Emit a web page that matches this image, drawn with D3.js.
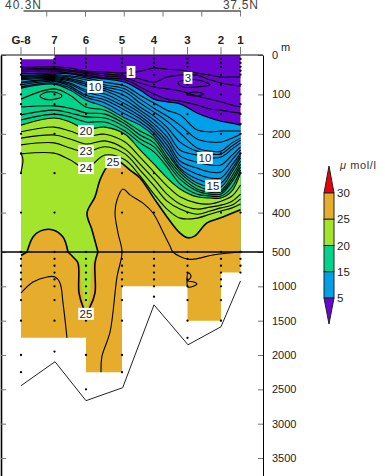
<!DOCTYPE html>
<html>
<head>
<meta charset="utf-8">
<script src="https://cdn.jsdelivr.net/npm/d3@7"></script>
<style>
body { margin: 0; background: #fff; }
svg { display: block; }
text { font-family: "Liberation Sans", Arial, sans-serif; }
</style>
</head>
<body>
<div id="chart"></div>
<script>
const w = 385
const h = 476

// stations, distance along the section
const stationNames = ['G-8', '7', '6', '5', '4', '3', '2', '1']
const stationDist = [0, 33.5, 65, 101, 133, 166.5, 200, 219.5]
const stationDepths = [
    [10, 20, 30, 50, 75, 100, 125, 150, 200, 250, 300, 400, 500, 600, 700, 800, 900, 1000, 1200, 1500, 2000, 2250],
    [10, 20, 30, 50, 75, 100, 125, 150, 200, 300, 400, 500, 600, 700, 800, 900, 1000, 1200, 1500, 1950],
    [10, 20, 30, 50, 75, 100, 125, 150, 200, 500, 600, 700, 800, 900, 1000, 1100, 1200, 1500, 2000, 2500],
    [10, 20, 30, 50, 75, 100, 125, 150, 200, 300, 400, 500, 600, 700, 800, 900, 1000, 1200, 1500, 2000, 2250],
    [10, 20, 30, 50, 75, 100, 125, 150, 200, 300, 400, 500, 600, 700, 800, 900, 1000, 1150],
    [10, 20, 30, 50, 75, 100, 150, 200, 400, 500, 600, 700, 800, 900, 1000, 1200, 1500, 1750],
    [10, 20, 30, 50, 75, 100, 150, 200, 250, 400, 500, 600, 700, 800, 900, 1000, 1200, 1500],
    [10, 20, 30, 40, 50, 75, 100, 125, 150, 175, 200, 250, 300, 400, 500, 600, 700, 800]
]

const depthTicks = [0, 100, 200, 300, 400, 500, 1000, 1500, 2000, 2500, 3000, 3500]
const latTicks = [40, 39.5, 39, 38.5, 38, 37.5]

// isolines, depth (m) at each of these distances
const isoDist = [0, 33, 49, 65, 84, 104, 119, 133, 146, 159, 176, 189, 200, 211, 219.5]
const iso1 = [32, 30, 33, 41, 43, 46, 41, 33, 36, 38, 46, 51, 56, 56, 56]
const iso2 = [36, 34, 38, 44, 48, 53, 61, 69, 56, 51, 51, 63, 71, 76, 79]
const iso3 = [38, 37, 41, 47, 53, 58, 71, 81, 86, 91, 104, 112, 119, 127, 132]
const iso4 = [43, 41, 46, 51, 58, 63, 81, 99, 112, 117, 127, 137, 140, 145, 147]
const iso5 = [48, 46, 48, 55, 61, 69, 89, 112, 119, 124, 147, 160, 168, 173, 178]
const iso6 = [52, 50, 53, 58, 69, 79, 102, 122, 140, 152, 190, 195, 193, 193, 193]
const iso7 = [55, 52, 56, 63, 76, 86, 112, 135, 155, 178, 213, 221, 221, 211, 201]
const iso8 = [57, 55, 60, 69, 81, 94, 122, 145, 168, 198, 236, 244, 244, 223, 211]
const iso9 = [60, 57, 63, 74, 86, 104, 132, 155, 183, 221, 244, 251, 251, 231, 216]
const iso10 = [63, 60, 66, 79, 91, 114, 140, 165, 195, 241, 254, 261, 259, 239, 223]
const iso11 = [69, 62, 71, 89, 99, 124, 147, 175, 208, 256, 272, 279, 279, 254, 233]
const iso12 = [71, 65, 74, 94, 107, 132, 155, 183, 218, 269, 287, 297, 297, 266, 241]
const iso13 = [76, 67, 79, 102, 114, 140, 162, 190, 228, 279, 302, 312, 312, 279, 249]
const iso14 = [81, 71, 84, 107, 122, 150, 170, 198, 239, 287, 315, 325, 325, 289, 255]
const iso15 = [84, 74, 89, 114, 132, 160, 178, 206, 249, 292, 325, 335, 335, 297, 261]
const iso16 = [112, 86, 102, 132, 140, 168, 193, 213, 259, 299, 332, 343, 343, 307, 269]
const iso17 = [132, 129, 135, 147, 150, 175, 203, 223, 266, 307, 340, 348, 348, 315, 277]
const iso18 = [152, 140, 147, 157, 160, 183, 213, 233, 274, 315, 345, 353, 353, 322, 284]
const iso19 = [165, 150, 157, 170, 170, 193, 223, 246, 284, 327, 353, 358, 358, 335, 292]
const iso20 = [178, 160, 170, 188, 183, 201, 241, 277, 312, 340, 360, 363, 363, 345, 299]
const iso21 = [195, 183, 193, 206, 201, 221, 259, 297, 332, 360, 376, 378, 371, 358, 330]
const iso22 = [211, 203, 213, 226, 218, 239, 277, 315, 353, 378, 391, 386, 381, 371, 353]
const iso23 = [228, 223, 236, 246, 233, 251, 292, 332, 371, 391, 404, 396, 388, 381, 365]
const iso24 = [251, 249, 266, 287, 254, 266, 307, 353, 391, 414, 414, 404, 396, 388, 378]
const isolines = [iso1, iso2, iso3, iso4, iso5, iso6, iso7, iso8, iso9, iso10, iso11, iso12,
    iso13, iso14, iso15, iso16, iso17, iso18, iso19, iso20, iso21, iso22, iso23, iso24]

// closed and short lines, [dist, depth]
const loop3 = [[157, 71], [166, 63], [181, 66], [189, 76], [176, 81], [162, 81]]
const loop3b = [[166, 99], [174, 94], [183, 99], [174, 104]]
const loop16 = [[19, 104], [26, 94], [36, 96], [41, 104], [34, 112], [24, 112]]
const loop26 = [[167, 805], [169, 820], [170, 863], [167, 921], [173, 936], [176, 965], [173, 994], [167, 1009], [166, 907]]
const leftEdge24 = [[0, 297], [2, 266], [1, 256], [0, 251]]

// 25 umol/l
const ridge25 = [[77, 500], [71, 444], [66, 401], [74, 360], [79, 317], [86, 284], [92, 272], [99, 272], [109, 292],
    [119, 312], [132, 360], [146, 411], [159, 452], [167, 464], [174, 459], [186, 426], [199, 414], [219.5, 393]]
const dome25 = [[6, 500], [12, 462], [19, 447], [32, 444], [42, 462], [47, 500]]
const tongue25 = [[47, 500], [53, 587], [57, 660], [58, 1096], [62, 1299], [65, 1386], [69, 1299], [74, 1096], [74, 660], [77, 500]]
const corner25 = [[0, 550], [6, 500]]
const tongueFill = [[47, 500], [53, 587], [59, 690], [60, 907], [63, 1197], [65, 1314], [68, 1197], [70, 907], [71, 690], [74, 587], [77, 500]]

// thin lines inside the 25 area
const left26 = [[0, 1097], [12, 936], [26, 863], [34, 863], [39, 950], [42, 1241], [46, 1750]]
const right26 = [[80, 2250], [81, 2017], [89, 1668], [96, 863], [101, 500], [97, 452], [94, 401], [96, 368], [102, 340],
    [109, 355], [122, 376], [132, 401], [141, 444], [149, 485], [152, 500], [166, 602], [174, 602], [192, 544], [219.5, 500]]

// deep part, drawn to the last sampled depth only
const stepDist = [0, 65, 101, 166.5, 200, 219.5]
const stepDepth = [1750, 2250, 1000, 1500, 800, 800]
const bottomLine = [[0, 2447], [34, 2098], [65, 2665], [101.7, 2476], [133, 1270], [167, 1851], [200, 1589], [219.5, 921]]

const labels = [
    ['1', 110, 43], ['10', 74, 81], ['3', 167, 58], ['20', 65, 193], ['23', 65, 244], ['24', 65, 287],
    ['25', 92, 272], ['10', 184, 261], ['15', 192, 332], ['25', 65, 1400]
]

const legendValues = [30, 25, 20, 15, 5]
const legendColors = ['#e6ad2d', '#a3e52d', '#00d38b', '#00a0e9']
const purple = '#6a04d0'
const blue = '#00a0e9'
const teal = '#00d38b'
const lime = '#a3e52d'
const orange = '#e6ad2d'
const red = '#e8000b'

const svg = d3.select('#chart')
    .append('svg')
    .attr('width', w)
    .attr('height', h)

const xScale = d3.scaleLinear().domain([0, 219.5]).range([21, 240.5])
const yScale = d3.scaleLinear().domain([0, 500, 3762]).range([55, 252, 476])
const latScale = d3.scaleLinear().domain([40.3, 37.5]).range([23, 240])

const smooth = d3.curveCatmullRom.alpha(0.5)
const line = d3.line().x(d => xScale(d[0])).y(d => yScale(d[1])).curve(smooth)
const straight = d3.line().x(d => xScale(d[0])).y(d => yScale(d[1]))
const closed = d3.line().x(d => xScale(d[0])).y(d => yScale(d[1])).curve(d3.curveCatmullRomClosed.alpha(0.5))

function pairs(depths) {
    return isoDist.map((x, i) => [x, depths[i]])
}

const bandArea = d3.area()
    .x(d => xScale(d[0]))
    .y0(d => yScale(d[1]))
    .y1(yScale(500))
    .curve(smooth)

// colour bands, top to bottom
svg.append('path')
    .attr('d', d3.area().x(d => xScale(d[0])).y0(d => yScale(d[1])).y1(yScale(500)).curve(d3.curveStepAfter)(
        [[0, 11], [33.5, 0], [219.5, 0]]))
    .attr('fill', purple)
svg.append('path').attr('d', bandArea(pairs(iso5))).attr('fill', blue)
svg.append('path').attr('d', bandArea(pairs(iso15))).attr('fill', teal)
svg.append('path').attr('d', bandArea(pairs(iso20))).attr('fill', lime)

svg.append('path')
    .attr('d', line(ridge25) + 'L' + xScale(219.5) + ',' + yScale(500) + 'Z')
    .attr('fill', orange)
svg.append('path')
    .attr('d', line(dome25) + 'Z')
    .attr('fill', orange)

const deepArea = d3.area()
    .x((d, i) => xScale(stepDist[i]))
    .y0(yScale(500))
    .y1(d => yScale(d))
    .curve(d3.curveStepAfter)
svg.append('path')
    .attr('d', deepArea(stepDepth))
    .attr('fill', orange)

svg.append('path').attr('d', line(tongueFill) + 'Z').attr('fill', lime)
svg.append('path').attr('d', straight(corner25.concat([[0, 500]])) + 'Z').attr('fill', lime)

// isolines
const iso = svg.append('g').attr('fill', 'none').attr('stroke', '#000').attr('stroke-width', 1.1)
iso.selectAll('path.iso')
    .data(isolines)
    .enter()
    .append('path')
    .attr('class', 'iso')
    .attr('d', d => line(pairs(d)))
iso.append('path').attr('d', line(leftEdge24))
iso.append('path').attr('d', closed(loop3))
iso.append('path').attr('d', closed(loop3b))
iso.append('path').attr('d', closed(loop16))
iso.append('path').attr('d', closed(loop26))
iso.append('path').attr('d', line(left26))
iso.append('path').attr('d', line(right26))

const bold = svg.append('g').attr('fill', 'none').attr('stroke', '#000').attr('stroke-width', 1.6)
bold.append('path').attr('d', line(ridge25))
bold.append('path').attr('d', line(dome25))
bold.append('path').attr('d', line(tongue25))
bold.append('path').attr('d', straight(corner25))

svg.append('path')
    .attr('d', straight(bottomLine))
    .attr('fill', 'none')
    .attr('stroke', '#222')
    .attr('stroke-width', 1)

// sample points
stationDepths.forEach((depths, i) => {
    svg.append('g')
        .selectAll('circle')
        .data(depths)
        .enter()
        .append('circle')
        .attr('cx', xScale(stationDist[i]))
        .attr('cy', d => yScale(d))
        .attr('r', 1.15)
        .attr('fill', '#000')
})

// isoline labels
const lab = svg.append('g').selectAll('g').data(labels).enter().append('g')
    .attr('transform', d => `translate(${xScale(d[1])},${yScale(d[2])})`)
lab.append('rect')
    .attr('x', d => -d[0].length * 3.4 - 1)
    .attr('y', -6)
    .attr('width', d => d[0].length * 6.8 + 2)
    .attr('height', 12)
    .attr('fill', '#fff')
lab.append('text')
    .attr('text-anchor', 'middle')
    .attr('y', 4)
    .attr('font-size', 11.5)
    .attr('fill', '#222')
    .text(d => d[0])

// frame and axes
const rightAxis = d3.axisRight(yScale)
    .tickValues(depthTicks)
    .tickSize(-5)
    .tickSizeOuter(0)
    .tickPadding(9)
    .tickFormat(d => d)
const r = svg.append('g')
    .attr('transform', 'translate(263, 0)')
    .call(rightAxis)
r.selectAll('text').attr('font-size', 11).attr('fill', '#222').attr('font-family', '"Liberation Sans", Arial, sans-serif')
r.selectAll('.tick line').attr('stroke', '#777')

const leftAxis = d3.axisRight(yScale)
    .tickValues(depthTicks)
    .tickSize(5)
    .tickSizeOuter(0)
    .tickFormat('')
const l = svg.append('g')
    .attr('transform', 'translate(1, 0)')
    .call(leftAxis)
l.select('.domain').attr('stroke-width', 1.6)
l.selectAll('.tick line').attr('stroke', '#777')

svg.append('line')
    .attr('x1', 1).attr('x2', 263)
    .attr('y1', yScale(0)).attr('y2', yScale(0))
    .attr('stroke', '#111')
svg.append('line')
    .attr('x1', 1).attr('x2', 263)
    .attr('y1', yScale(500)).attr('y2', yScale(500))
    .attr('stroke', '#000')
    .attr('stroke-width', 1.6)

svg.append('text')
    .attr('x', 281).attr('y', 51)
    .attr('font-size', 11)
    .attr('fill', '#222')
    .text('m')

// station names and ticks
const st = svg.append('g').selectAll('g').data(stationNames).enter().append('g')
    .attr('transform', (d, i) => `translate(${xScale(stationDist[i])},0)`)
st.append('line').attr('y1', 47).attr('y2', 55).attr('stroke', '#777')
st.append('text')
    .attr('y', 44)
    .attr('text-anchor', 'middle')
    .attr('font-size', 11.5)
    .attr('font-weight', 'bold')
    .attr('fill', '#222')
    .text(d => d)

// latitude axis on top
const topAxis = d3.axisBottom(latScale)
    .tickValues(latTicks)
    .tickSizeOuter(0)
    .tickFormat('')
const t = svg.append('g')
    .attr('transform', 'translate(0, 10.5)')
    .call(topAxis)
t.selectAll('.tick line').attr('stroke', '#777')
svg.append('text').attr('x', 5).attr('y', 9).attr('font-size', 12).attr('letter-spacing', 1).attr('fill', '#444').text('40.3N')
svg.append('text').attr('x', 223).attr('y', 9).attr('font-size', 12).attr('letter-spacing', 0.7).attr('fill', '#444').text('37.5N')

// colour key
const keyScale = d3.scalePoint().domain(legendValues).range([193, 298])
const keyX = d3.scaleLinear().domain([0, 1]).range([324, 334])
const key = svg.append('g')
key.append('path')
    .attr('d', `M${keyX(0)},${keyScale(30)}L${keyX(0.5)},166L${keyX(1)},${keyScale(30)}Z`)
    .attr('fill', red)
    .attr('stroke', '#222')
key.selectAll('rect')
    .data(legendColors)
    .enter()
    .append('rect')
    .attr('x', keyX(0))
    .attr('y', (d, i) => keyScale(legendValues[i]))
    .attr('width', keyX(1) - keyX(0))
    .attr('height', keyScale.step())
    .attr('fill', d => d)
    .attr('stroke', '#222')
key.append('path')
    .attr('d', `M${keyX(0)},${keyScale(5)}L${keyX(0.5)},324L${keyX(1)},${keyScale(5)}Z`)
    .attr('fill', purple)
    .attr('stroke', '#222')
key.selectAll('text')
    .data(legendValues)
    .enter()
    .append('text')
    .attr('x', 337)
    .attr('y', d => keyScale(d) + 4)
    .attr('font-size', 11.5)
    .attr('fill', '#222')
    .text(d => d)
svg.append('text')
    .attr('x', 340).attr('y', 169)
    .attr('font-size', 11)
    .attr('fill', '#333')
    .attr('letter-spacing', 0.6)
    .html('<tspan font-style="italic">μ</tspan> mol/l')
</script>
</body>
</html>
